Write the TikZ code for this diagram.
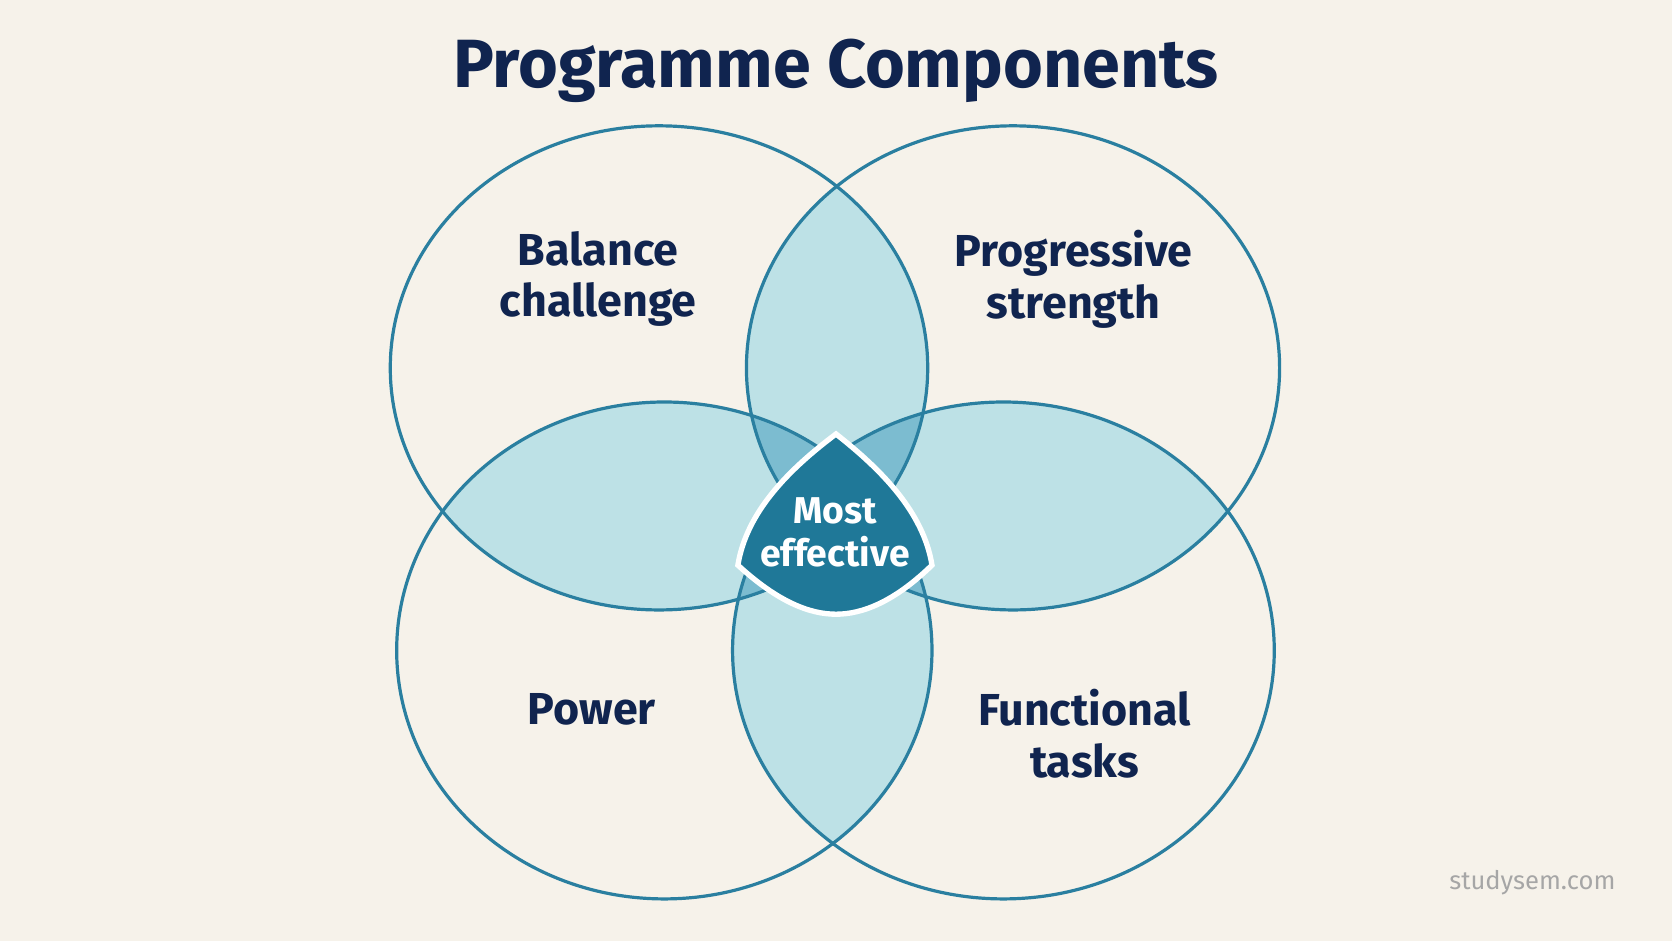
\documentclass[tikz,border=0pt]{standalone}
\usepackage{fontspec}
\setmainfont{Fira Sans}
\definecolor{PaperBg}{HTML}{F6F2EA}
\definecolor{RingBlue}{HTML}{2A7FA0}
\definecolor{LensBlue}{HTML}{BDE1E6}
\definecolor{MidBlue}{HTML}{7CBCD0}
\definecolor{CoreBlue}{HTML}{1F7898}
\definecolor{InkNavy}{HTML}{10244F}
\tikzset{
  ring/.style={draw=RingBlue, line width=1.5pt},
  lbl/.style={text=InkNavy, font=\fontsize{21}{24}\selectfont\bfseries, align=center},
}
\begin{document}
\begin{tikzpicture}[x=0.5pt,y=-0.5pt]
		% Background and frame
		\fill[PaperBg] (0,0) rectangle (1568,882);
		\useasboundingbox (0,0) rectangle (1568,882);

		% Ellipse shapes
		\def\ellTL{(618,345) ellipse [x radius=252, y radius=227]}
		\def\ellTR{(950,345) ellipse [x radius=250, y radius=227]}
		\def\ellBL{(623,610) ellipse [x radius=251, y radius=233]}
		\def\ellBR{(941,610) ellipse [x radius=254, y radius=233]}

		% Pairwise overlaps
		\begin{scope}\clip \ellTL; \fill[LensBlue] \ellTR; \fill[LensBlue] \ellBL; \end{scope}
		\begin{scope}\clip \ellBR; \fill[LensBlue] \ellTR; \fill[LensBlue] \ellBL; \end{scope}

		% Triple overlaps
		\begin{scope}\clip \ellTL; \clip \ellTR; \fill[MidBlue] \ellBL; \fill[MidBlue] \ellBR; \end{scope}
		\begin{scope}\clip \ellBL; \clip \ellBR; \fill[MidBlue] \ellTL; \fill[MidBlue] \ellTR; \end{scope}

		% Outlines
		\draw[ring] \ellTL;
		\draw[ring] \ellTR;
		\draw[ring] \ellBL;
		\draw[ring] \ellBR;

		% Core region
		\fill[CoreBlue, draw=white, line width=2.5pt] (784,407)
			.. controls (740,440) and (700,480) .. (692,530)
			.. controls (730,565) and (760,576) .. (784,576)
			.. controls (808,576) and (838,565) .. (874,530)
			.. controls (866,480) and (826,440) .. cycle;

		% Title and labels
		\node[text=InkNavy, font=\fontsize{32}{36}\selectfont\bfseries] (title) at (784,66) {Programme Components};
		\node[lbl] (balance) at (561,262) {Balance\\challenge};
		\node[lbl] (progressive) at (1007,262) {Progressive\\strength};
		\node[lbl] (power) at (555,665) {Power};
		\node[lbl] (functional) at (1017,688) {Functional\\tasks};
		\node[text=white, font=\fontsize{17.5}{20}\selectfont\bfseries, align=center] (core) at (783,499) {Most\\effective};

		% Watermark
		\node[text=gray!70, font=\fontsize{12}{14}\selectfont, anchor=east] (mark) at (1522,828) {studysem.com};
	\end{tikzpicture}
\end{document}
